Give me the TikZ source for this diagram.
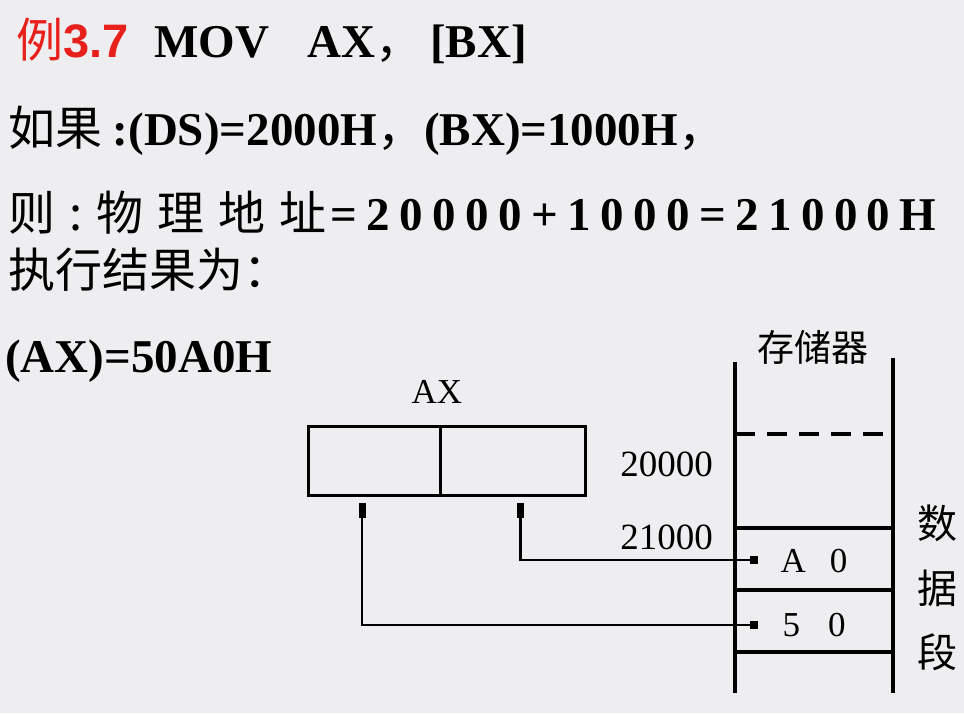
\documentclass[tikz,border=0pt]{standalone}
\usepackage{fontspec}
\setmainfont{Liberation Serif}
\newfontfamily\cjk{Noto Sans CJK SC}
\newfontfamily\cjkwide[LetterSpace=30]{Noto Sans CJK SC}
\newfontfamily\numwide[LetterSpace=20]{Liberation Serif}
\newfontfamily\arialfont{Liberation Sans}
\newcommand\zh[1]{{\cjk\mdseries #1}}
\usetikzlibrary{arrows.meta,positioning}
\definecolor{bgpaper}{RGB}{238,238,240}
\definecolor{titlered}{RGB}{232,32,28}

\begin{document}
\begin{tikzpicture}[x=1pt,y=-1pt]
\tikzstyle{txt} = [inner sep=0pt, anchor=base west, font=\fontsize{47}{50}\selectfont\bfseries]
\tikzstyle{reg} = [rectangle, draw, line width=3pt, minimum height=69pt, inner sep=0pt, outer sep=0pt]
\tikzstyle{lbl} = [inner sep=0pt, font=\fontsize{35}{37}\selectfont]
\tikzstyle{side} = [inner sep=0pt, font=\cjk\fontsize{40}{42}\selectfont]
\tikzstyle{wall} = [line width=3.2pt]
\tikzstyle{line} = [draw, line width=2.6pt, shorten <=8pt, {Rectangle[length=15pt,width=7pt]}-{Square[length=8pt]}]

\fill[bgpaper] (0,0) rectangle (964,713);
\useasboundingbox (0,0) rectangle (964,713);

% text lines
\node[txt] (title) at (16,57) {\textcolor{titlered}{\zh{例}\arialfont\bfseries 3.7}\hspace{26pt}MOV\hspace{38pt}AX\zh{，}\hspace{8pt}[BX]};
\node[txt] (cond) at (8,145) {\zh{如果 }:(DS)=2000H\zh{，}(BX)=1000H\zh{，}};
\node[txt] (addr) at (8,230) {{\cjkwide\mdseries 则:物理地址}\hspace{4pt}{\numwide\bfseries =20000+1000=21000H}};
\node[txt] (res) at (8,287) {\zh{执行结果为：}};
\node[txt] (axval) at (5,372) {(AX)=50A0H};

% register AX
\node[reg, minimum width=132pt] (axL) at (374,460.5) {};
\node[reg, minimum width=145pt, right=0pt of axL] (axR) {};
\node[lbl] (axname) at (437,392) {AX};

% memory
\node[side, font=\cjk\fontsize{37}{40}\selectfont] (mem) at (813,347) {存储器};
\draw[wall] (735,362) -- (735,693);
\draw[wall] (893,358) -- (893,693);
\draw[wall, dash pattern=on 20pt off 12pt] (735,434) -- (893,434);
\foreach \y in {528,590,652}
  \draw[wall] (735,\y) -- (893,\y);
\node[lbl, anchor=east, font=\fontsize{37}{39}\selectfont] (a20000) at (713,464) {20000};
\node[lbl, anchor=east, font=\fontsize{37}{39}\selectfont] (a21000) at (713,537) {21000};
\node[lbl] (cellA) at (814,561) {A\hspace{24pt}0};
\node[lbl] (cell5) at (814,625) {5\hspace{28pt}0};
\foreach \ch/\y [count=\i] in {数/523,据/588,段/652}
  \node[side] (seg\i) at (937,\y) {\ch};

% connectors
\coordinate (pA) at (758,560);
\coordinate (p5) at (758,625);
\draw[line] ([xshift=8pt]axR.south) |- (pA);
\draw[line] ([xshift=-12pt]axL.south) |- (p5);

\end{tikzpicture}
\end{document}
